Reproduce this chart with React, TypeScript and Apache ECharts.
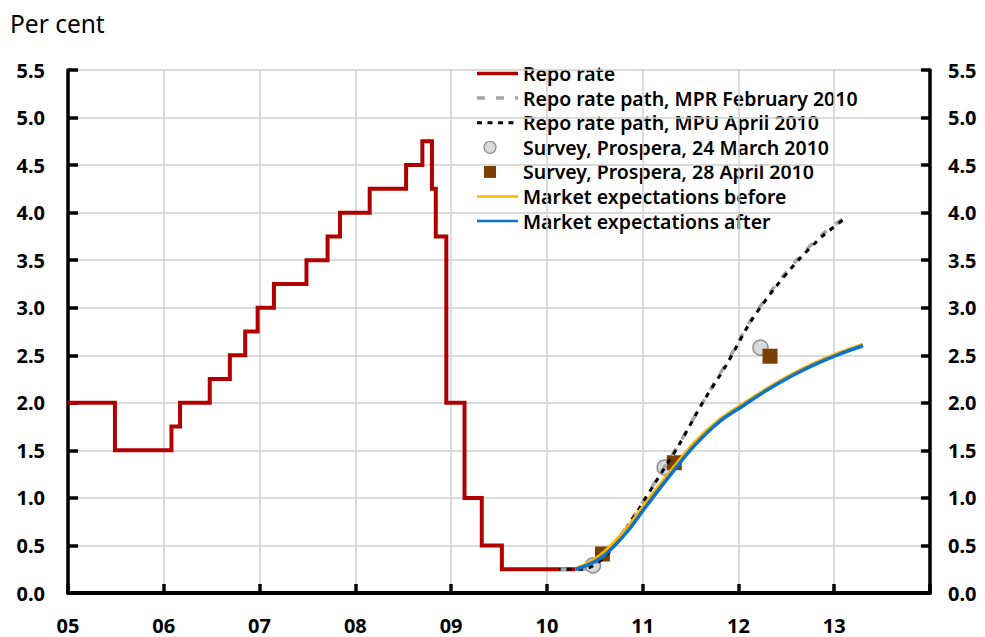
import React, { useEffect, useRef } from 'react';
import * as echarts from 'echarts';

// Repo rate: date of change (decimal year) and new level
const repoDates = [2005.0, 2005.49, 2006.08, 2006.17, 2006.48, 2006.69, 2006.85, 2006.98, 2007.15, 2007.49, 2007.71, 2007.84, 2008.15, 2008.53, 2008.70, 2008.80, 2008.84, 2008.95, 2009.14, 2009.32, 2009.53, 2010.30];
const repoLevels = [2.0, 1.5, 1.75, 2.0, 2.25, 2.5, 2.75, 3.0, 3.25, 3.5, 3.75, 4.0, 4.25, 4.5, 4.75, 4.25, 3.75, 2.0, 1.0, 0.5, 0.25, 0.25];

// Repo rate paths
const mprDates = [2010.125, 2010.375, 2010.625, 2010.875, 2011.125, 2011.375, 2011.625, 2011.875, 2012.125, 2012.375, 2012.625, 2012.875, 2013.125];
const mprValues = [0.25, 0.25, 0.42, 0.76, 1.16, 1.56, 2.0, 2.42, 2.86, 3.22, 3.52, 3.77, 3.96];
const mpuDates = [2010.125, 2010.375, 2010.625, 2010.875, 2011.125, 2011.375, 2011.625, 2011.875, 2012.125, 2012.375, 2012.625, 2012.875, 2013.125];
const mpuValues = [0.25, 0.25, 0.4, 0.75, 1.15, 1.55, 2.0, 2.4, 2.85, 3.2, 3.5, 3.75, 3.95];

// Prospera surveys
const surveyMarchDates = [2010.48, 2011.23, 2012.23];
const surveyMarchValues = [0.29, 1.32, 2.58];
const surveyAprilDates = [2010.58, 2011.33, 2012.33];
const surveyAprilValues = [0.41, 1.37, 2.49];

// Market expectations
const marketDates = [2010.3, 2010.55, 2010.8, 2011.05, 2011.3, 2011.55, 2011.8, 2012.05, 2012.3, 2012.55, 2012.8, 2013.05, 2013.3];
const marketBefore = [0.25, 0.39, 0.64, 0.97, 1.29, 1.59, 1.82, 1.99, 2.15, 2.295, 2.42, 2.525, 2.615];
const marketAfter = [0.25, 0.36, 0.6, 0.93, 1.255, 1.56, 1.8, 1.97, 2.135, 2.28, 2.405, 2.51, 2.6];

const legendLabels = [
  'Repo rate',
  'Repo rate path, MPR February 2010',
  'Repo rate path, MPU April 2010',
  'Survey, Prospera, 24 March 2010',
  'Survey, Prospera, 28 April 2010',
  'Market expectations before',
  'Market expectations after',
];

const zip = (xs: number[], ys: number[]) => xs.map((x, i) => [x, ys[i]]);

const FONT = '"Noto Sans", "Open Sans", sans-serif';
const RED = '#B00000';
const GRAY = '#A6A6A6';
const YELLOW = '#FFB400';
const BLUE = '#0A74CC';
const BROWN = '#7A3E00';

export default function App() {
  const ref = useRef<HTMLDivElement>(null);
  useEffect(() => {
    document.body.style.margin = '0';
    const chart = echarts.init(ref.current!, undefined, { renderer: 'svg' });
    const lx = 477;
    const lx2 = 518;
    const tx = 523;
    const ly0 = 73.5;
    const step = 24.6;
    const legendGraphics: any[] = [];
    const rowY = (i: number) => ly0 + i * step;
    legendGraphics.push({ type: 'line', shape: { x1: lx, y1: rowY(0), x2: lx2, y2: rowY(0) }, style: { stroke: RED, lineWidth: 3.5 } });
    legendGraphics.push({ type: 'line', shape: { x1: lx, y1: rowY(1), x2: lx2, y2: rowY(1) }, style: { stroke: GRAY, lineWidth: 3.5, lineDash: [8, 11] } });
    legendGraphics.push({ type: 'line', shape: { x1: lx, y1: rowY(2), x2: lx2, y2: rowY(2) }, style: { stroke: '#000', lineWidth: 3, lineDash: [5, 5.5] } });
    legendGraphics.push({ type: 'circle', shape: { cx: 490, cy: rowY(3), r: 6 }, style: { fill: '#D9D9D9', stroke: '#8C8C8C', lineWidth: 1.2 } });
    legendGraphics.push({ type: 'rect', shape: { x: 484, y: rowY(4) - 6, width: 12, height: 12 }, style: { fill: BROWN } });
    legendGraphics.push({ type: 'line', shape: { x1: lx, y1: rowY(5), x2: lx2, y2: rowY(5) }, style: { stroke: YELLOW, lineWidth: 2.5 } });
    legendGraphics.push({ type: 'line', shape: { x1: lx, y1: rowY(6), x2: lx2, y2: rowY(6) }, style: { stroke: BLUE, lineWidth: 2.5 } });
    legendLabels.forEach((t, i) => {
      legendGraphics.push({
        type: 'text',
        x: tx,
        y: rowY(i),
        style: { text: t, fill: '#000', font: `600 19.5px ${FONT}`, textVerticalAlign: 'middle' },
      });
    });

    const axisLabel = { color: '#000', fontSize: 20, fontWeight: 'bold', fontFamily: FONT };
    chart.setOption({
      animation: false,
      grid: { left: 68, right: 55, top: 70, bottom: 44 },
      xAxis: {
        type: 'value',
        min: 2005,
        max: 2014,
        interval: 1,
        axisLine: { show: true, onZero: false, lineStyle: { color: '#000', width: 4 } },
        axisTick: { show: true, inside: true, length: 9, lineStyle: { color: '#000', width: 3.5 } },
        axisLabel: {
          ...axisLabel,
          margin: 22,
          formatter: (v: number) => (v >= 2014 ? '' : String(Math.round(v) % 100).padStart(2, '0')),
        },
        splitLine: { show: true, lineStyle: { color: '#CFCFCF', width: 1.5 } },
      },
      yAxis: [
        {
          type: 'value',
          min: 0,
          max: 5.5,
          interval: 0.5,
          position: 'left',
          axisLine: { show: true, lineStyle: { color: '#000', width: 3.5 } },
          axisTick: { show: true, inside: true, length: 10, lineStyle: { color: '#000', width: 3.5 } },
          axisLabel: { ...axisLabel, margin: 23, formatter: (v: number) => v.toFixed(1) },
          splitLine: { show: true, lineStyle: { color: '#CFCFCF', width: 1.5 } },
        },
        {
          type: 'value',
          min: 0,
          max: 5.5,
          interval: 0.5,
          position: 'right',
          axisLine: { show: true, lineStyle: { color: '#000', width: 3.5 } },
          axisTick: { show: true, inside: true, length: 9, lineStyle: { color: '#000', width: 3.5 } },
          axisLabel: { ...axisLabel, margin: 18, formatter: (v: number) => v.toFixed(1) },
          splitLine: { show: false },
        },
      ],
      graphic: [
        {
          type: 'text',
          left: 10,
          top: 11,
          style: { text: 'Per cent', fill: '#000', font: `24.5px ${FONT}` },
        },
        ...legendGraphics,
      ],
      series: [
        {
          name: legendLabels[0],
          type: 'line',
          step: 'end',
          data: zip(repoDates, repoLevels),
          showSymbol: false,
          symbol: 'none',
          lineStyle: { color: RED, width: 4, cap: 'butt', join: 'miter' },
        },
        {
          name: legendLabels[1],
          type: 'line',
          smooth: 0.3,
          data: zip(mprDates, mprValues),
          symbol: 'none',
          lineStyle: { color: GRAY, width: 3.5, type: [8, 11] },
        },
        {
          name: legendLabels[2],
          type: 'line',
          smooth: 0.3,
          data: zip(mpuDates, mpuValues),
          symbol: 'none',
          lineStyle: { color: '#000', width: 3, type: [5, 6], dashOffset: 3 },
        },
        {
          name: legendLabels[3],
          type: 'scatter',
          data: zip(surveyMarchDates, surveyMarchValues),
          symbol: 'circle',
          symbolSize: 15,
          itemStyle: { color: '#D9D9D9', borderColor: '#8C8C8C', borderWidth: 1.5, opacity: 1 },
        },
        {
          name: legendLabels[4],
          type: 'scatter',
          data: zip(surveyAprilDates, surveyAprilValues),
          symbol: 'rect',
          symbolSize: 15,
          itemStyle: { color: BROWN, opacity: 1 },
        },
        {
          name: legendLabels[5],
          type: 'line',
          smooth: 0.4,
          data: zip(marketDates, marketBefore),
          symbol: 'none',
          lineStyle: { color: YELLOW, width: 3.5 },
        },
        {
          name: legendLabels[6],
          type: 'line',
          smooth: 0.4,
          data: zip(marketDates, marketAfter),
          symbol: 'none',
          lineStyle: { color: BLUE, width: 3.5 },
        },
      ],
    });
    return () => chart.dispose();
  }, []);
  return <div ref={ref} style={{ width: 985, height: 637 }} />;
}
